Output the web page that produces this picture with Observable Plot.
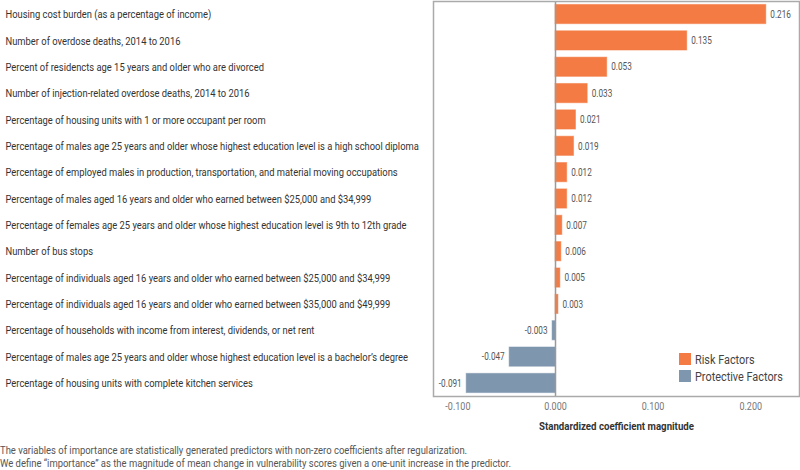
<!DOCTYPE html>
<html>
<head>
<meta charset="utf-8">
<script src="https://cdn.jsdelivr.net/npm/d3@7"></script>
<script src="https://cdn.jsdelivr.net/npm/@observablehq/plot@0.6"></script>
<style>
  html, body { margin: 0; padding: 0; background: #fff; }
  body { width: 800px; height: 470px; overflow: hidden; font-family: Roboto, "Noto Sans", sans-serif; }
  #wrap { position: relative; width: 800px; }
  #chart svg { display: block; overflow: visible; }
  #chart g[aria-label="x-axis label"] text { font-weight: bold; fill: #333; font-size: 11px; }
  #chart g[aria-label="x-axis tick label"] text { fill: #777; font-size: 11px; }
  .ylab text { font-size: 11.5px; fill: #333; }
  .vlab text { font-size: 10px; fill: #555; }
  #legend { position: absolute; left: 679px; top: 353px; font-size: 12.5px; color: #444; white-space: nowrap; }
  #legend .row { display: flex; align-items: center; height: 12px; margin-bottom: 5px; }
  #legend .sw { width: 12px; height: 12px; margin-right: 4px; flex: none; }
  #legend span { display: inline-block; transform: scaleX(0.87); transform-origin: left center; }
  #caption { font-size: 10.5px; color: #555; line-height: 13px; margin-top: 7px; white-space: nowrap; }
  #caption div { transform: scaleX(0.9); transform-origin: left center; }
</style>
</head>
<body>
<div id="wrap">
  <div id="chart"></div>
  <div id="legend"></div>
</div>
<div id="caption"></div>
<script>
const categories = [
  "Housing cost burden (as a percentage of income)",
  "Number of overdose deaths, 2014 to 2016",
  "Percent of residencts age 15 years and older who are divorced",
  "Number of injection-related overdose deaths, 2014 to 2016",
  "Percentage of housing units with 1 or more occupant per room",
  "Percentage of males age 25 years and older whose highest education level is a high school diploma",
  "Percentage of employed males in production, transportation, and material moving occupations",
  "Percentage of males aged 16 years and older who earned between $25,000 and $34,999",
  "Percentage of females age 25 years and older whose highest education level is 9th to 12th grade",
  "Number of bus stops",
  "Percentage of individuals aged 16 years and older who earned between $25,000 and $34,999",
  "Percentage of individuals aged 16 years and older who earned between $35,000 and $49,999",
  "Percentage of households with income from interest, dividends, or net rent",
  "Percentage of males age 25 years and older whose highest education level is a bachelor\u2019s degree",
  "Percentage of housing units with complete kitchen services"
];
const values = [0.216, 0.135, 0.053, 0.033, 0.021, 0.019, 0.012, 0.012, 0.007, 0.006, 0.005, 0.003, -0.003, -0.047, -0.091];
const factorTypes = ["Risk Factors", "Protective Factors"];
const factorColors = ["#F47C44", "#7E96AE"];
const xTicks = [-0.1, 0, 0.1, 0.2];
const xLabel = "Standardized coefficient magnitude";
const captionLines = [
  "The variables of importance are statistically generated predictors with non-zero coefficients after regularization.",
  "We define \u201cimportance\u201d as the magnitude of mean change in vulnerability scores given a one-unit increase in the predictor."
];

const data = categories.map((c, i) => ({
  name: c,
  value: values[i],
  type: values[i] >= 0 ? factorTypes[0] : factorTypes[1]
}));
const fmt = d => d.toFixed(3);

const plot = Plot.plot({
  width: 800,
  height: 437,
  marginLeft: 433,
  marginRight: 1,
  marginTop: 1,
  marginBottom: 41,
  style: { fontFamily: "Roboto, 'Noto Sans', sans-serif", background: "#fff" },
  x: {
    domain: [-0.125, 0.25],
    ticks: xTicks,
    tickFormat: fmt,
    tickSize: 0,
    tickPadding: 6,
    label: xLabel,
    labelAnchor: "center",
    labelArrow: "none",
    labelOffset: 33
  },
  y: { domain: categories, paddingInner: 0.27, paddingOuter: 0.13, round: false, axis: null },
  color: { domain: factorTypes, range: factorColors },
  marks: [
    Plot.barX(data, { y: "name", x: "value", fill: "type", stroke: "type", strokeOpacity: 0.5, strokeWidth: 1 }),
    Plot.ruleX([0], { stroke: "#9a9a9a", strokeWidth: 1.5 }),
    Plot.frame({ stroke: "#aaa", strokeWidth: 1.5 }),
    Plot.text(data.filter(d => d.value >= 0), { y: "name", x: "value", text: d => fmt(d.value), textAnchor: "start", dx: 4, className: "vlab" }),
    Plot.text(data.filter(d => d.value < 0), { y: "name", x: "value", text: d => fmt(d.value), textAnchor: "end", dx: -5, className: "vlab" }),
    Plot.text(categories, { y: d => d, frameAnchor: "left", dx: -428, textAnchor: "start", text: d => d, className: "ylab" })
  ]
});
document.getElementById("chart").appendChild(plot);

// horizontally condense text (the original uses a condensed typeface)
function condense(texts, f) {
  texts.forEach(t => {
    const bb = t.getBBox();
    const anchor = getComputedStyle(t).textAnchor;
    const ax = anchor === "middle" ? bb.x + bb.width / 2 : anchor === "end" ? bb.x + bb.width : bb.x;
    const g = document.createElementNS("http://www.w3.org/2000/svg", "g");
    const tr = t.getAttribute("transform");
    if (tr) g.setAttribute("transform", tr);
    t.parentNode.insertBefore(g, t);
    g.appendChild(t);
    t.setAttribute("transform", `translate(${ax},0) scale(${f},1) translate(${-ax},0)`);
  });
}
condense(plot.querySelectorAll(".ylab text"), 0.815);
condense(plot.querySelectorAll(".vlab text"), 0.82);
condense(plot.querySelectorAll('g[aria-label="x-axis tick label"] text'), 0.82);
condense(plot.querySelectorAll('g[aria-label="x-axis label"] text'), 0.88);

const legend = document.getElementById("legend");
factorTypes.forEach((t, i) => {
  const row = document.createElement("div");
  row.className = "row";
  const sw = document.createElement("div");
  sw.className = "sw";
  sw.style.background = factorColors[i];
  const lab = document.createElement("span");
  lab.textContent = t;
  row.appendChild(sw);
  row.appendChild(lab);
  legend.appendChild(row);
});

const cap = document.getElementById("caption");
captionLines.forEach(l => {
  const d = document.createElement("div");
  d.textContent = l;
  cap.appendChild(d);
});
</script>
</body>
</html>
